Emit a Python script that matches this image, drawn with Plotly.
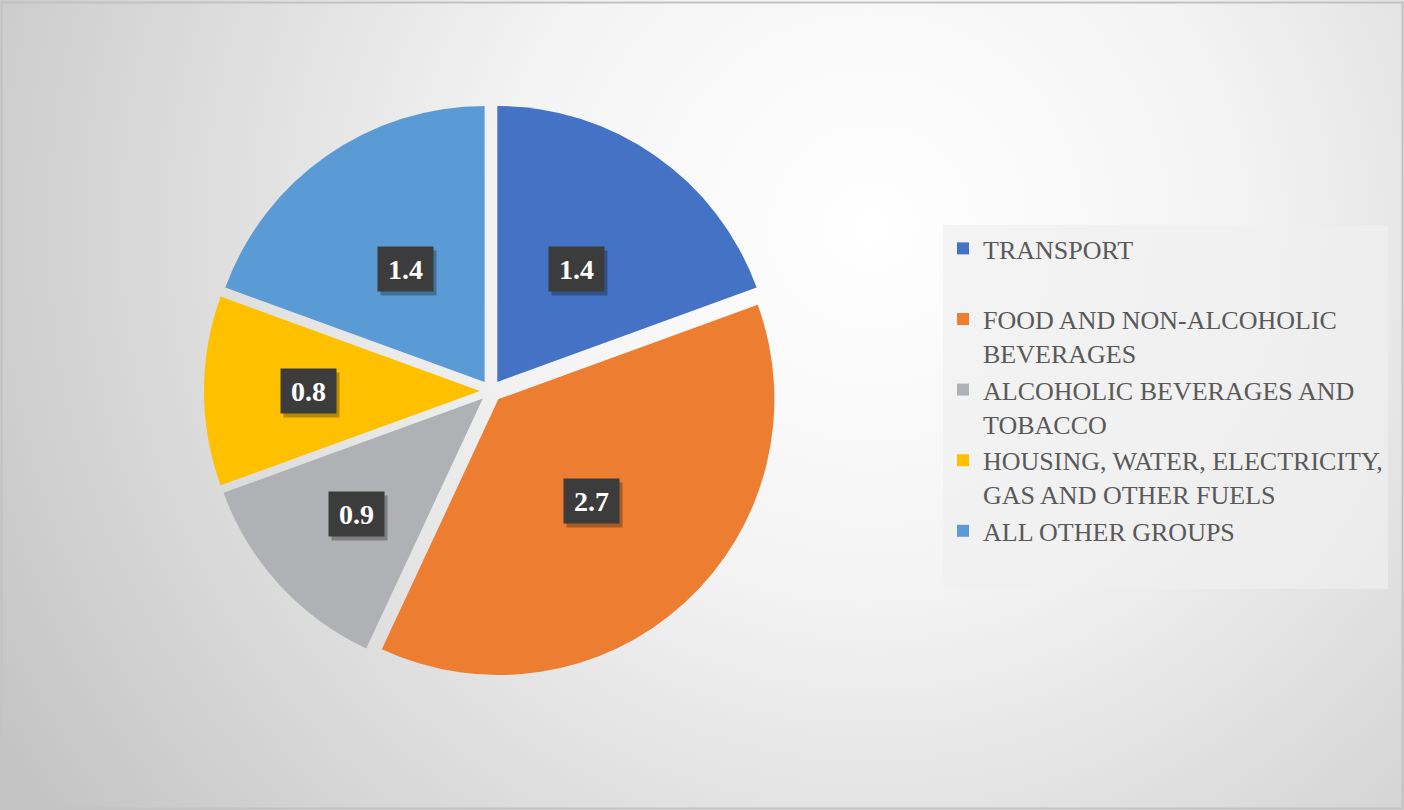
import base64
import math
import plotly.graph_objects as go

# ---- data ----
categories = [
    "TRANSPORT",
    "FOOD AND NON-ALCOHOLIC<br>BEVERAGES",
    "ALCOHOLIC BEVERAGES AND<br>TOBACCO",
    "HOUSING, WATER, ELECTRICITY,<br>GAS AND OTHER FUELS",
    "ALL OTHER GROUPS",
]
values = [1.4, 2.7, 0.9, 0.8, 1.4]
colors = ["#4472C4", "#ED7D31", "#B0B1B5", "#FFC000", "#5B9BD5"]

# ---- layout constants ----
W, H = 1404, 810
PULL = 0.04
DOM_X = [0.0, 0.6994]
DOM_Y = [0.163, 0.8716]

# background radial gradient as an SVG image
svg = f'''<svg xmlns="http://www.w3.org/2000/svg" width="{W}" height="{H}" viewBox="0 0 {W} {H}" preserveAspectRatio="none">
<defs><radialGradient id="g" cx="0.62" cy="0.28" r="0.72" gradientUnits="objectBoundingBox" gradientTransform="translate(0.62 0.28) scale(1 1.73) translate(-0.62 -0.28)">
<stop offset="0" stop-color="#ffffff"/><stop offset="0.35" stop-color="#f4f4f4"/>
<stop offset="1" stop-color="#c4c4c4"/></radialGradient></defs>
<rect x="0" y="0" width="{W}" height="{H}" fill="url(#g)"/>
<rect x="1.5" y="2.5" width="{W-3}" height="{H-4}" fill="none" stroke="#c2c2c2" stroke-width="2"/>
</svg>'''
bg_src = "data:image/svg+xml;base64," + base64.b64encode(svg.encode()).decode()

legend_labels = [c if "<br>" in c else c + "<br> " for c in categories]

fig = go.Figure(
    go.Pie(
        labels=legend_labels,
        values=values,
        marker=dict(colors=colors, line=dict(width=0)),
        sort=False,
        direction="clockwise",
        rotation=0,
        pull=[PULL] * len(values),
        textinfo="none",
        hoverinfo="label+value",
        domain=dict(x=DOM_X, y=DOM_Y),
    )
)

# value labels in dark boxes, placed from the slice geometry
box_w = DOM_X[1] - DOM_X[0]
box_h = DOM_Y[1] - DOM_Y[0]
r = min(box_w * W, box_h * H) / (2 + 2 * PULL)
cx = W * (DOM_X[0] + DOM_X[1]) / 2
cy = H * (2 - DOM_Y[0] - DOM_Y[1]) / 2
total = sum(values)
cum = 0.0
for v in values:
    ang_span = 360 * v / total
    mid = math.radians(360 * (cum + v / 2) / total)
    cum += v
    f = 0.5 if ang_span >= 60 else 0.62
    d = (f + PULL) * r
    px = cx + d * math.sin(mid)
    py = cy - d * math.cos(mid)
    xp, yp = px / W, 1 - py / H
    # shadow
    fig.add_annotation(
        x=xp, y=yp, xref="paper", yref="paper", showarrow=False,
        xanchor="center", yanchor="middle",
        text=" ", width=53, height=42, bgcolor="rgba(0,0,0,0.28)",
        xshift=3, yshift=-4,
    )
    fig.add_annotation(
        x=xp, y=yp, xref="paper", yref="paper", showarrow=False,
        xanchor="center", yanchor="middle",
        text=f"<b>{v}</b>", width=53, height=42, bgcolor="#3c3c3c",
        font=dict(family="Liberation Serif", size=28, color="#ffffff"),
        align="center", valign="middle",
    )

fig.update_layout(
    width=W,
    height=H,
    margin=dict(l=0, r=0, t=0, b=0),
    paper_bgcolor="#e4e4e4",
    plot_bgcolor="rgba(0,0,0,0)",
    images=[dict(source=bg_src, xref="paper", yref="paper", x=0, y=1,
                 sizex=1, sizey=1, xanchor="left", yanchor="top",
                 sizing="stretch", layer="below")],
    showlegend=True,
    legend=dict(
        x=943 / W, y=1 - 225 / H, xanchor="left", yanchor="top",
        bgcolor="rgba(240,240,240,0.7)",
        font=dict(family="Liberation Serif", size=26, color="#595959"),
        valign="top",
        traceorder="normal",
        itemclick=False,
        itemdoubleclick=False,
    ),
)

fig.write_html(
    "out.html",
    config={"displayModeBar": False},
    post_script="document.body.style.margin='0px';",
)
